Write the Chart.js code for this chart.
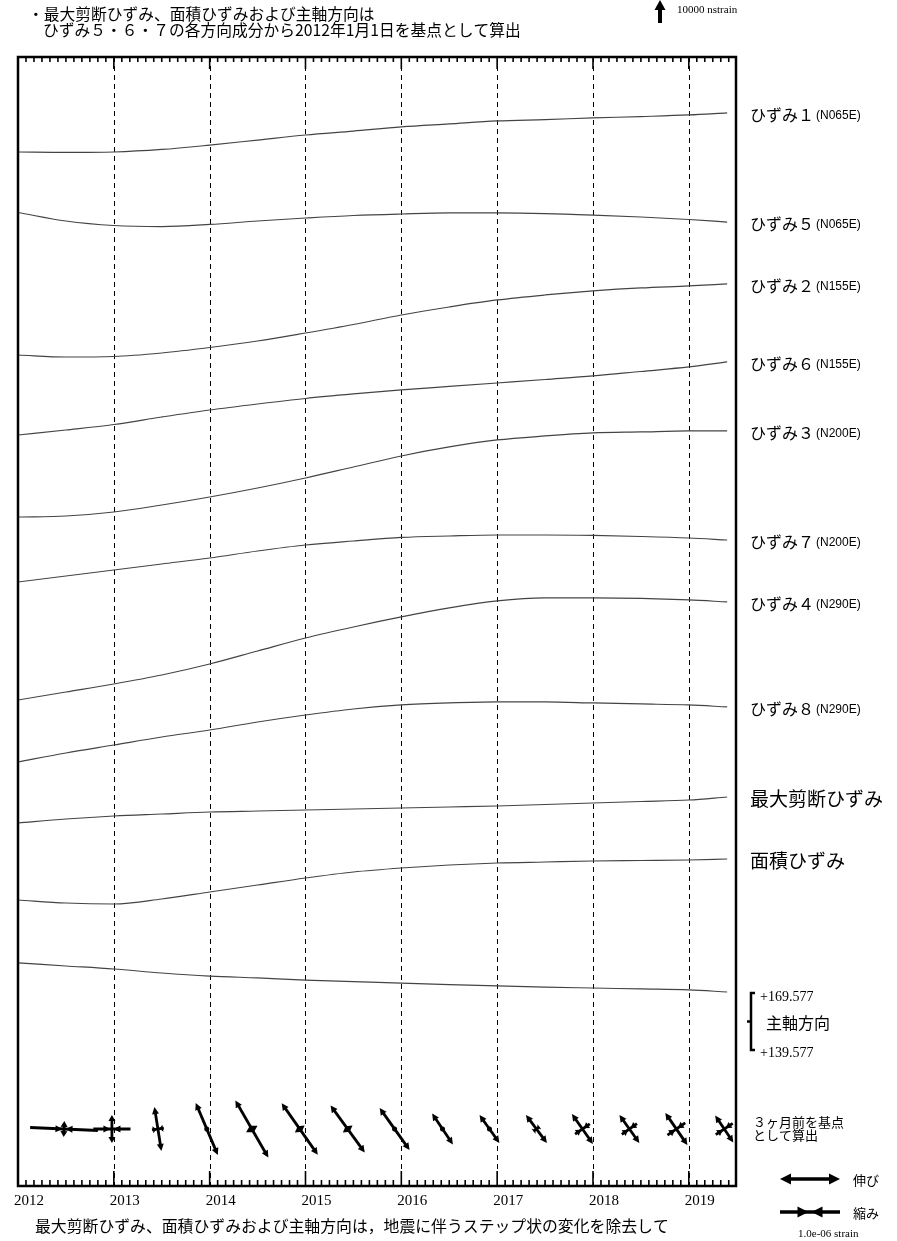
<!DOCTYPE html>
<html>
<head>
<meta charset="utf-8">
<script src="https://cdn.jsdelivr.net/npm/chart.js@4.4.0/dist/chart.umd.min.js"></script>
<style>
  html, body { margin: 0; padding: 0; background: #fff; }
</style>
</head>
<body>
<canvas id="strainChart" width="897" height="1241"></canvas>
<script>
// sample times (decimal years)
const years = [2012.0, 2012.5, 2013.0, 2013.5, 2014.0, 2014.5, 2015.0, 2015.5, 2016.0, 2016.5, 2017.0, 2017.5, 2018.0, 2018.5, 2019.0, 2019.4];
const yearTicks = [2012, 2013, 2014, 2015, 2016, 2017, 2018, 2019];

// strain change since 2012-01-01 (nstrain, extension positive)
const strain1 = [0, -200, 0, 1100, 3000, 5200, 7400, 9100, 10900, 12200, 13500, 14100, 14800, 15400, 16100, 17000];
const strain5 = [0, -3700, -5650, -6100, -5200, -3700, -2400, -1300, -650, -200, -200, -450, -1100, -1950, -3050, -4150];
const strain2 = [0, -870, -650, 870, 3260, 6090, 9570, 13270, 17400, 20880, 23930, 26100, 27840, 29150, 30020, 30890];
const strain6 = [0, 2180, 4570, 7830, 10880, 13490, 15880, 17840, 19580, 21100, 22620, 24140, 25670, 27620, 29580, 31760];
const strain3 = [0, 435, 2175, 5220, 8700, 12615, 16965, 21750, 26535, 30450, 33495, 35235, 36540, 36975, 37410, 37410];
const strain7 = [0, 2610, 5220, 7830, 10440, 13485, 16095, 17835, 19360, 20010, 20445, 20445, 20230, 19790, 19140, 18270];
const strain4 = [0, 3480, 6960, 10875, 15660, 21315, 26970, 31755, 36105, 40020, 43065, 44370, 44370, 44150, 43500, 42630];
const strain8 = [0, 3915, 7395, 10875, 13920, 17400, 20445, 23055, 24795, 25665, 26100, 26100, 25665, 25230, 24795, 23925];
const shearMax = [0, 1740, 3045, 3915, 4785, 5220, 5655, 6090, 6525, 6960, 7395, 8050, 8700, 9350, 10000, 11310];
const areal = [0, -1305, -1740, 435, 3480, 6525, 9570, 12180, 13920, 15225, 16095, 16530, 16965, 17180, 17400, 17835];
// principal axis azimuth (deg)
const axisDeg = [185.4, 183.8, 182.2, 180.1, 178.5, 177.5, 176.4, 175.6, 174.8, 174.0, 173.3, 172.7, 172.2, 171.7, 171.2, 170.1];
const axisTicks = [169.577, 139.577];

const seriesNames = ['ひずみ１', 'ひずみ５', 'ひずみ２', 'ひずみ６', 'ひずみ３', 'ひずみ７', 'ひずみ４', 'ひずみ８', '最大剪断ひずみ', '面積ひずみ'];
const seriesDirs = ['(N065E)', '(N065E)', '(N155E)', '(N155E)', '(N200E)', '(N200E)', '(N290E)', '(N290E)', '', ''];
const seriesValues = [strain1, strain5, strain2, strain6, strain3, strain7, strain4, strain8, shearMax, areal];

// principal strains over 3 months (nstrain): azimuth of axis 1, strain on axis 1, strain on axis 2
const symTimes = [2012.48, 2012.98, 2013.46, 2013.97, 2014.44, 2014.94, 2015.44, 2015.93, 2016.43, 2016.92, 2017.41, 2017.89, 2018.38, 2018.87, 2019.37];
const symAzimuth = [92.5, 90, 171, 157, 150, 145, 144, 144.5, 146, 144.5, 143, 145, 144.5, 145.5, 146];
const symE1 = [-1130, -620, 740, 940, 1100, 1050, 970, 860, 620, 570, 580, 610, 570, 650, 540];
const symE2 = [270, 470, -200, -80, 220, 200, 200, -80, -50, -50, -120, -300, -310, -360, -340];

// layout
const AREA = { left: 18, right: 736, top: 57, bottom: 1186 };
const NS_PER_PX = 10000 / 23;          // 10000 nstrain scale arrow
const DEG_PER_PX = 30 / 57;
const BASE_ROWS = [152, 212.5, 355, 435, 517, 582, 700, 762, 823, 900];
const AXIS_TOP_ROW = 993;
const SYM_ROW = 1129;
const LEGEND_PX = 60;                  // 1.0e-06 strain
const JP = '"Noto Sans CJK JP", "Noto Sans", sans-serif';
const SERIF = '"Liberation Serif", "DejaVu Serif", serif';

const rowToStrain = r => (AREA.bottom - r) * NS_PER_PX;
const degAtRow = r => axisTicks[0] + (AXIS_TOP_ROW - r) * DEG_PER_PX;

const lineColor = '#444';
const datasets = seriesValues.map((vals, i) => ({
  label: seriesNames[i],
  data: years.map((t, j) => ({ x: t, y: rowToStrain(BASE_ROWS[i]) + vals[j] })),
  yAxisID: 'y',
  borderColor: lineColor,
  borderWidth: 1.2,
  pointRadius: 0,
  cubicInterpolationMode: 'monotone',
  fill: false
}));
datasets.push({
  label: '主軸方向',
  data: years.map((t, j) => ({ x: t, y: axisDeg[j] })),
  yAxisID: 'yAng',
  borderColor: lineColor,
  borderWidth: 1.2,
  pointRadius: 0,
  cubicInterpolationMode: 'monotone',
  fill: false
});

function line(ctx, x1, y1, x2, y2) {
  ctx.beginPath(); ctx.moveTo(x1, y1); ctx.lineTo(x2, y2); ctx.stroke();
}
function head(ctx, tx, ty, ux, uy, len, hw) {
  ctx.beginPath();
  ctx.moveTo(tx, ty);
  ctx.lineTo(tx - ux * len - uy * hw, ty - uy * len + ux * hw);
  ctx.lineTo(tx - ux * len + uy * hw, ty - uy * len - ux * hw);
  ctx.closePath();
  ctx.fill();
}
// one principal strain bar: outward heads for extension, inward for contraction
function strainBar(ctx, cx, cy, ux, uy, half, ext, lw, hl, hw) {
  ctx.lineWidth = lw;
  if (half < 3) {
    ctx.beginPath(); ctx.arc(cx, cy, lw * 0.9, 0, Math.PI * 2); ctx.fill();
    return;
  }
  const inset = ext ? hl * 0.6 : 0;
  line(ctx, cx - ux * (half - inset), cy - uy * (half - inset), cx + ux * (half - inset), cy + uy * (half - inset));
  if (ext) {
    head(ctx, cx + ux * half, cy + uy * half, ux, uy, hl, hw);
    head(ctx, cx - ux * half, cy - uy * half, -ux, -uy, hl, hw);
  } else {
    const g = 1.5;
    const l = Math.min(hl, half * 0.6);
    head(ctx, cx - ux * g, cy - uy * g, ux, uy, l, hw);
    head(ctx, cx + ux * g, cy + uy * g, -ux, -uy, l, hw);
  }
}

const decor = {
  id: 'decor',
  beforeDatasetsDraw(chart) {
    const { ctx, chartArea: a, scales: { x } } = chart;
    ctx.save();
    ctx.strokeStyle = '#000';
    ctx.lineWidth = 1;
    ctx.setLineDash([5, 4]);
    yearTicks.forEach(yr => {
      if (yr <= x.min || yr >= x.max) return;
      const px = Math.round(x.getPixelForValue(yr)) + 0.5;
      line(ctx, px, a.top, px, a.bottom);
    });
    ctx.restore();
  },
  afterDatasetsDraw(chart) {
    const { ctx, chartArea: a, scales: { x, y, yAng } } = chart;
    ctx.save();
    ctx.fillStyle = '#000';
    ctx.strokeStyle = '#000';

    // principal strain symbols
    ctx.save();
    ctx.beginPath();
    ctx.rect(a.left, a.top, a.right - a.left, a.bottom - a.top);
    ctx.clip();
    const cy = y.getPixelForValue(rowToStrain(SYM_ROW));
    const k = LEGEND_PX / 1000;
    symTimes.forEach((t, i) => {
      const cx = x.getPixelForValue(t);
      const az = symAzimuth[i] * Math.PI / 180;
      const ux = Math.sin(az), uy = -Math.cos(az);
      strainBar(ctx, cx, cy, ux, uy, Math.abs(symE1[i]) * k / 2, symE1[i] > 0, 2.8, 7, 3.5);
      strainBar(ctx, cx, cy, -uy, ux, Math.abs(symE2[i]) * k / 2, symE2[i] > 0, 2.8, 6, 3.5);
    });
    ctx.restore();

    // frame
    ctx.lineWidth = 2.5;
    ctx.strokeRect(a.left, a.top, a.right - a.left, a.bottom - a.top);

    // monthly ticks, top and bottom, pointing inward
    ctx.lineWidth = 1.6;
    for (let m = 0; ; m++) {
      const t = x.min + m / 12;
      if (t > x.max) break;
      const px = x.getPixelForValue(t);
      const major = m % 12 === 0;
      line(ctx, px, a.top, px, a.top + (major ? 12 : 5));
      line(ctx, px, a.bottom, px, a.bottom - (major ? 15 : 6));
    }

    // year labels
    ctx.font = '15px ' + SERIF;
    ctx.textAlign = 'left';
    ctx.textBaseline = 'alphabetic';
    yearTicks.forEach(yr => ctx.fillText(String(yr), x.getPixelForValue(yr) - 4, 1205));

    // series labels at the right end of each curve
    ctx.textBaseline = 'middle';
    seriesValues.forEach((vals, i) => {
      const py = y.getPixelForValue(rowToStrain(BASE_ROWS[i]) + vals[vals.length - 1]) + 2;
      if (seriesDirs[i]) {
        ctx.font = '16px ' + JP;
        ctx.fillText(seriesNames[i], 750, py);
        const w = ctx.measureText(seriesNames[i]).width;
        ctx.font = '12px "Liberation Sans", sans-serif';
        ctx.fillText(seriesDirs[i], 750 + w + 2, py + 1);
      } else {
        ctx.font = '19px ' + JP;
        ctx.fillText(seriesNames[i], 750, py);
      }
    });

    // principal axis bracket
    const bt = yAng.getPixelForValue(axisTicks[0]);
    const bb = yAng.getPixelForValue(axisTicks[1]);
    const bm = (bt + bb) / 2;
    ctx.lineWidth = 2.5;
    ctx.beginPath();
    ctx.moveTo(755, bt); ctx.lineTo(751, bt); ctx.lineTo(751, bb); ctx.lineTo(755, bb);
    ctx.stroke();
    line(ctx, 747, bm, 751, bm);
    ctx.font = '14px ' + SERIF;
    ctx.fillText('+' + axisTicks[0].toFixed(3), 760, bt + 4);
    ctx.fillText('+' + axisTicks[1].toFixed(3), 760, bb + 3);
    ctx.font = '16px ' + JP;
    ctx.fillText('主軸方向', 766, bm + 1);

    // 10000 nstrain scale arrow
    const arrowLen = y.getPixelForValue(0) - y.getPixelForValue(10000);
    ctx.lineWidth = 4;
    line(ctx, 660, 23, 660, 23 - arrowLen + 8);
    head(ctx, 660, 23 - arrowLen, 0, -1, 10, 5.5);
    ctx.font = '11px ' + SERIF;
    ctx.fillText('10000 nstrain', 677, 10);

    // header and footer notes
    ctx.font = '15.75px ' + JP;
    ctx.fillText('・最大剪断ひずみ、面積ひずみおよび主軸方向は', 28, 14);
    ctx.fillText('ひずみ５・６・７の各方向成分から2012年1月1日を基点として算出', 43, 30);
    ctx.font = '15.85px ' + JP;
    ctx.fillText('最大剪断ひずみ、面積ひずみおよび主軸方向は，地震に伴うステップ状の変化を除去して', 35, 1226);

    ctx.font = '13px ' + JP;
    ctx.fillText('３ヶ月前を基点', 753, 1122);
    ctx.fillText('として算出', 753, 1135);

    // legend for the principal strain symbols
    strainBar(ctx, 810, 1179, 1, 0, LEGEND_PX / 2, true, 3.5, 11, 5.5);
    strainBar(ctx, 810, 1212, 1, 0, LEGEND_PX / 2, false, 3.5, 11, 5.5);
    ctx.font = '13px ' + JP;
    ctx.fillText('伸び', 853, 1180);
    ctx.fillText('縮み', 853, 1213);
    ctx.font = '11px ' + SERIF;
    ctx.fillText('1.0e-06 strain', 798, 1234);
    ctx.restore();
  }
};

new Chart(document.getElementById('strainChart'), {
  type: 'line',
  data: { datasets },
  options: {
    responsive: false,
    animation: false,
    layout: { padding: { left: AREA.left, right: 897 - AREA.right, top: AREA.top, bottom: 1241 - AREA.bottom } },
    plugins: { legend: { display: false }, tooltip: { enabled: false } },
    scales: {
      x: { type: 'linear', display: false, min: 2012, max: 2012 + (AREA.right - AREA.left) / 95.83 },
      y: { display: false, min: 0, max: rowToStrain(AREA.top) },
      yAng: { display: false, min: degAtRow(AREA.bottom), max: degAtRow(AREA.top) }
    }
  },
  plugins: [decor]
});
</script>
</body>
</html>
